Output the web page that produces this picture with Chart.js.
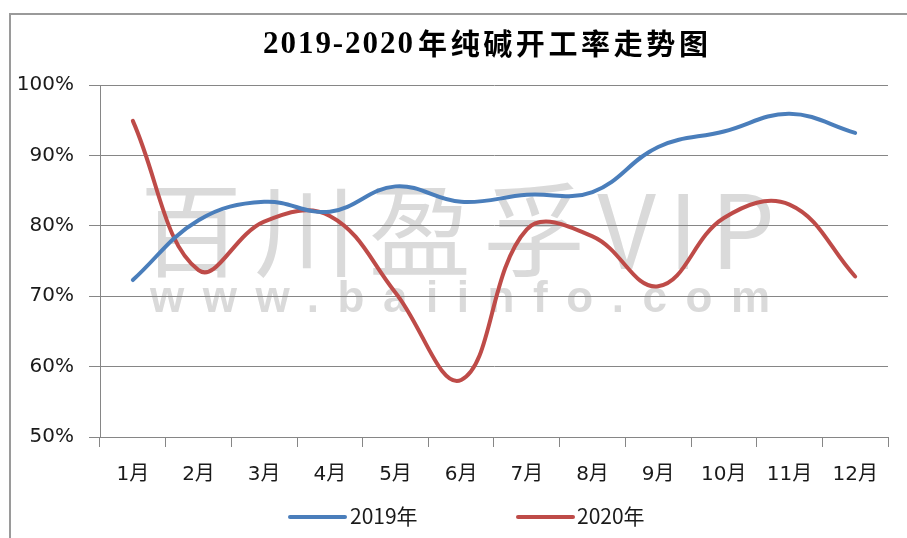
<!DOCTYPE html>
<html>
<head>
<meta charset="utf-8">
<script src="https://cdn.jsdelivr.net/npm/chart.js@4.4.1/dist/chart.umd.min.js"></script>
<style>
html,body{margin:0;padding:0;background:#fff;}
canvas{display:block;}
</style>
</head>
<body>
<canvas id="c" width="907" height="538"></canvas>
<script>
// ---- data ----
const months = ['1月','2月','3月','4月','5月','6月','7月','8月','9月','10月','11月','12月'];
const series2019Label = '2019年';
const series2020Label = '2020年';
const rate2019 = [72.3, 80.8, 83.4, 82.0, 85.6, 83.4, 84.4, 84.8, 91.2, 93.4, 95.9, 93.2];
const rate2020 = [94.9, 73.7, 80.6, 81.4, 70.5, 58.1, 79.5, 78.5, 71.4, 81.1, 83.0, 72.8];
const yMin = 50, yMax = 100, yStep = 10;
const titleYears = '2019-2020';
const titleWords = '年纯碱开工率走势图';
const watermarkCn = '百川盈孚VIP';
const watermarkUrl = 'www.baiinfo.com';

const AXIS = '#868686';
const CJK = '"Noto Sans CJK SC"';

function spacedText(ctx, text, x, cy, targetW) {
  ctx.letterSpacing = '0px';
  const w0 = ctx.measureText(text).width;
  const n = [...text].length;
  const sp = (targetW - w0) / (n - 1);
  ctx.letterSpacing = sp + 'px';
  ctx.textAlign = 'left';
  ctx.textBaseline = 'middle';
  ctx.fillText(text, x, cy);
  ctx.letterSpacing = '0px';
}

const decor = {
  id: 'decor',
  beforeDraw(chart) {
    const ctx = chart.ctx;
    ctx.save();
    ctx.fillStyle = '#fff';
    ctx.fillRect(0, 0, chart.width, chart.height);
    ctx.strokeStyle = '#9a9a9a';
    ctx.lineWidth = 2;
    ctx.strokeRect(10, 14, 1200, 1200);
    // watermark
    ctx.fillStyle = '#dadada';
    ctx.font = '102px ' + CJK;
    spacedText(ctx, watermarkCn, 140, 230, 635);
    ctx.font = 'bold 44px "Liberation Sans", Arial, sans-serif';
    spacedText(ctx, watermarkUrl, 150, 300, 620);
    ctx.restore();
  },
  afterDraw(chart) {
    const ctx = chart.ctx;
    ctx.save();
    // title
    ctx.fillStyle = '#000';
    ctx.font = 'bold 31px "Liberation Serif"';
    spacedText(ctx, titleYears, 263, 45, 150);
    ctx.font = 'bold 29px ' + CJK;
    spacedText(ctx, titleWords, 418, 44, 290);
    // legend
    const items = [
      {x: 288, tx: 350},
      {x: 516, tx: 577}
    ];
    chart.data.datasets.forEach((ds, i) => {
      const it = items[i];
      ctx.strokeStyle = ds.borderColor;
      ctx.lineWidth = 4;
      ctx.lineCap = 'round';
      ctx.beginPath();
      ctx.moveTo(it.x + 2, 517);
      ctx.lineTo(it.x + 57, 517);
      ctx.stroke();
      ctx.fillStyle = '#1a1a1a';
      ctx.font = '21px ' + CJK;
      ctx.textAlign = 'left';
      ctx.textBaseline = 'middle';
      ctx.fillText(ds.label, it.tx, 516);
    });
    ctx.restore();
  }
};

new Chart(document.getElementById('c'), {
  type: 'line',
  data: {
    labels: months,
    datasets: [
      {label: series2019Label, data: rate2019, borderColor: '#4A7EBB', backgroundColor: '#4A7EBB',
       borderWidth: 4, pointRadius: 0, tension: 0.4, fill: false, borderCapStyle: 'round'},
      {label: series2020Label, data: rate2020, borderColor: '#BE4B48', backgroundColor: '#BE4B48',
       borderWidth: 4, pointRadius: 0, tension: 0.4, fill: false, borderCapStyle: 'round'}
    ]
  },
  options: {
    responsive: false,
    animation: false,
    devicePixelRatio: 1,
    layout: {padding: {top: 85, left: 0, right: 19, bottom: 41}},
    plugins: {legend: {display: false}, title: {display: false}, tooltip: {enabled: false}},
    scales: {
      x: {
        offset: true,
        grid: {offset: true, drawOnChartArea: false, drawTicks: true, tickLength: 10, color: AXIS, lineWidth: 1},
        border: {color: AXIS, width: 1},
        ticks: {font: {size: 20, family: '"DejaVu Sans", ' + CJK}, color: '#1a1a1a', padding: 16, maxRotation: 0, autoSkip: false},
        afterFit(s) { s.height = 60; }
      },
      y: {
        min: yMin, max: yMax,
        grid: {color: AXIS, lineWidth: 1, tickLength: 11, drawTicks: true},
        border: {color: AXIS, width: 1},
        ticks: {stepSize: yStep, font: {size: 20, family: '"DejaVu Sans"'}, color: '#1a1a1a', padding: 15,
                callback: v => v + '%'},
        afterFit(s) { s.width = 100; }
      }
    }
  },
  plugins: [decor]
});
</script>
</body>
</html>
